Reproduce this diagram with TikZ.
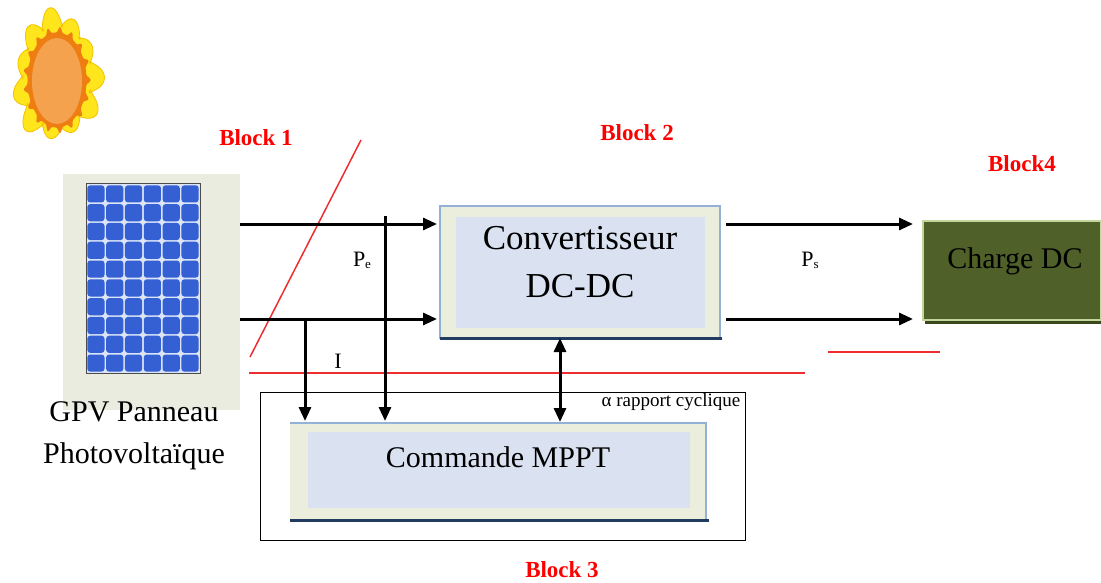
\documentclass[tikz,border=0pt]{standalone}
\usepackage{fontspec}
\setmainfont{Liberation Serif}
\usetikzlibrary{arrows.meta}

\definecolor{sunyellow}{HTML}{FFE51C}
\definecolor{sunedge}{HTML}{F2C200}
\definecolor{sunorange}{HTML}{EE7E12}
\definecolor{suncore}{HTML}{F4A24E}
\definecolor{panelbg}{HTML}{E9ECDF}
\definecolor{cellblue}{HTML}{3560D4}
\definecolor{cellgap}{HTML}{DCE5F7}
\definecolor{boxbeige}{HTML}{EBEEDD}
\definecolor{boxblue}{HTML}{DAE2F1}
\definecolor{boxedge}{HTML}{93B1D6}
\definecolor{navy}{HTML}{213C60}
\definecolor{loadfill}{HTML}{4F6128}
\definecolor{loadedge}{HTML}{C3D69B}
\definecolor{loadshadow}{HTML}{3A481C}
\definecolor{redl}{HTML}{EE2E2E}

\tikzset{
  arr/.style={line width=3pt, -{Triangle[length=14pt,width=12pt]}},
  dblarr/.style={line width=3pt, {Triangle[length=14pt,width=12pt]}-{Triangle[length=14pt,width=12pt]}},
  redline/.style={draw=redl, line width=1.5pt},
  blocklabel/.style={text=red, font=\bfseries\fontsize{23}{27}\selectfont, inner sep=0pt},
  bigtext/.style={font=\fontsize{35}{48}\selectfont, align=center, inner sep=0pt},
  midtext/.style={font=\fontsize{30}{42}\selectfont, align=center, inner sep=0pt},
  smalltext/.style={font=\fontsize{22}{26}\selectfont, inner sep=0pt},
  tinytext/.style={font=\fontsize{19}{22}\selectfont, inner sep=0pt},
  blockbox/.style={fill=boxbeige, inner sep=0pt, outer sep=0pt},
  innerbox/.style={fill=boxblue, inner sep=0pt, outer sep=0pt},
}

\begin{document}
\begin{tikzpicture}[x=1pt,y=-1pt]
\useasboundingbox (0,0) rectangle (1101,583);

% ---------- sun ----------
\fill[sunyellow, draw=sunedge, line width=0.8pt]
  plot[smooth cycle, samples=240, domain=0:358.5, variable=\t]
  ({57+34*(1+0.42*(0.75+0.3*sin(3*\t+40))*((1+cos(11*\t))/2)^3)*cos(\t+8*sin(11*\t))},
   {77+51*(1+0.36*(0.75+0.3*sin(3*\t+40))*((1+cos(11*\t))/2)^3)*sin(\t+8*sin(11*\t))});
\fill[sunorange]
  plot[smooth cycle, samples=240, domain=0:358.5, variable=\t]
  ({57+29.5*(1+0.14*((1+cos(17*\t))/2)^3)*cos(\t)},
   {80+47.5*(1+0.12*((1+cos(17*\t))/2)^3)*sin(\t)});
\fill[suncore] (57,81) ellipse [x radius=25, y radius=43];

% ---------- PV panel ----------
\node[fill=panelbg, minimum width=177pt, minimum height=236pt, inner sep=0pt, outer sep=0pt]
  (pv) at (151.5,292) {};
\fill[cellgap, draw=black!70, line width=1pt] (86,184) rectangle (200,373);
\foreach \i in {0,...,5}
  \foreach \j in {0,...,9}
    \fill[cellblue, rounded corners=3pt]
      ({86.5+\i*18.83+0.8},{184.5+\j*18.8+0.8}) rectangle ++(17.2,17.2);
\node[midtext] (pvtxt) at (134,436) {GPV Panneau\\Photovolta\"ique};

% ---------- block labels ----------
\node[blocklabel] (b1) at (256,138) {Block 1};
\node[blocklabel] (b2) at (637,133) {Block 2};
\node[blocklabel] (b4) at (1022,164) {Block4};
\node[blocklabel] (b3) at (562,570) {Block 3};

% ---------- red separators ----------
\draw[redline] (250,357) -- (361,140);
\draw[redline] (249,373) -- (805,373);
\draw[redline] (828,352) -- (940,352);

% ---------- control frame ----------
\node[draw=black, line width=1pt, minimum width=485pt, minimum height=148pt, inner sep=0pt, outer sep=0pt]
  (ctrl) at (502.5,466) {};
\node[tinytext] (alpha) at (671,402) {α rapport cyclique};

% ---------- DC-DC converter ----------
\node[blockbox, draw=boxedge, line width=2pt, minimum width=280pt, minimum height=132pt]
  (conv) at (580,272) {};
\node[innerbox, minimum width=249pt, minimum height=111pt] (convin) at (580.5,272) {};
\draw[navy, line width=3pt] (conv.south west) -- ([xshift=2pt]conv.south east);
\node[bigtext] (convtxt) at (580,262) {Convertisseur\\DC-DC};

% ---------- MPPT command ----------
\node[blockbox, minimum width=416pt, minimum height=97pt] (mppt) at (498,471.5) {};
\node[innerbox, minimum width=382pt, minimum height=76pt] (mpptin) at (499,470) {};
\draw[boxedge, line width=2pt] (mppt.north west) -- (mppt.north east) -- (mppt.south east);
\draw[navy, line width=3pt] (mppt.south west) -- ([xshift=3pt]mppt.south east);
\node[midtext] (mppttxt) at (498,457) {Commande MPPT};

% ---------- DC load ----------
\node[fill=loadfill, draw=loadedge, line width=2pt, minimum width=178pt, minimum height=99pt,
  inner sep=0pt, outer sep=0pt] (load) at (1012,270.5) {};
\draw[loadshadow, line width=3pt] ([xshift=2pt,yshift=-2.5pt]load.south west) -- ([yshift=-2.5pt]load.south east);
\node[midtext] (loadtxt) at (1015,261) {Charge DC};

% ---------- power flow ----------
\coordinate (ytop) at (0,224);
\coordinate (ybot) at (0,319);
\draw[arr, shorten >=3pt] (pv.east |- ytop) -- (conv.west |- ytop);
\draw[arr, shorten >=3pt] (pv.east |- ybot) -- (conv.west |- ybot);
\draw[arr, shorten <=6pt, shorten >=10pt] (conv.east |- ytop) -- (load.west |- ytop);
\draw[arr, shorten <=6pt, shorten >=10pt] (conv.east |- ybot) -- (load.west |- ybot);

% ---------- measurements to MPPT ----------
\coordinate (petap) at (385,216);
\coordinate (itap) at (305,319);
\coordinate (dtap) at (560,338);
\draw[arr, shorten >=2pt] (petap) -- (petap |- mppt.north);
\draw[arr, shorten >=2pt] (itap) -- (itap |- mppt.north);
\draw[dblarr, shorten >=1pt] (dtap) -- (dtap |- mppt.north);

\node[smalltext] (pe) at (362,260) {P\raisebox{-2pt}{\fontsize{13}{13}\selectfont e}};
\node[smalltext] (ps) at (810,260) {P\raisebox{-2pt}{\fontsize{13}{13}\selectfont s}};
\node[smalltext] (icur) at (338,361) {I};
\end{tikzpicture}
\end{document}
